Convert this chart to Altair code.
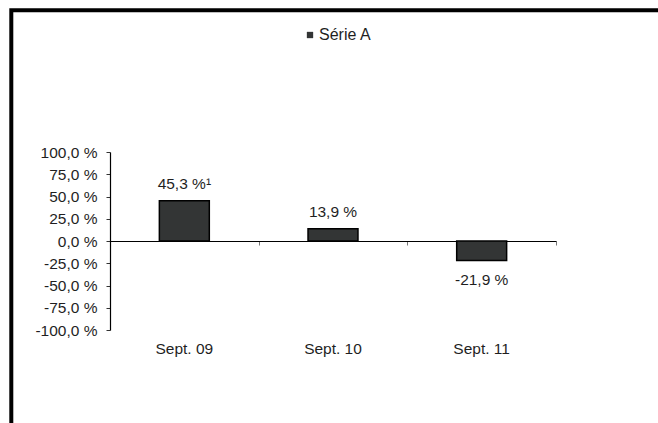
import altair as alt
import pandas as pd

categories = ["Sept. 09", "Sept. 10", "Sept. 11"]
values = [45.3, 13.9, -21.9]
value_labels = ["45,3 %¹", "13,9 %", "-21,9 %"]
series = ["Série A", "Série A", "Série A"]
y_ticks = [-100, -75, -50, -25, 0, 25, 50, 75, 100]

df = pd.DataFrame({"cat": categories, "val": values, "lab": value_labels, "serie": series})

FONT = "Liberation Sans"
TXT = "#1f1f1f"
FS = 15.5

x_scale = alt.Scale(domain=categories, paddingInner=0, paddingOuter=0)
y_scale = alt.Scale(domain=[-100, 100], nice=False, zero=True)

y_label_expr = "(datum.value < 0 ? '-' : '') + replace(format(abs(datum.value), '.1f'), '.', ',') + ' %'"

y_axis = alt.Axis(values=y_ticks, tickCount=9, labelExpr=y_label_expr, grid=False,
                  labelOverlap=False, labelFlush=False,
                  domainColor="black", domainWidth=1.2, tickColor="#333333",
                  tickSize=4, labelPadding=9, labelFontSize=FS, labelFont=FONT,
                  labelColor=TXT)

base = alt.Chart(df)

bars = base.mark_bar(width=alt.RelativeBandSize(0.336), stroke="black", strokeWidth=1.5).encode(
    x=alt.X("cat:N", scale=x_scale, sort=categories, title=None,
            axis=alt.Axis(orient="bottom", domain=False, ticks=False, labelPadding=11,
                          labelFontSize=FS, labelFont=FONT, labelColor=TXT, labelAngle=0)),
    y=alt.Y("val:Q", scale=y_scale, title=None, axis=y_axis),
    color=alt.Color("serie:N", scale=alt.Scale(range=["#333535"]),
                    legend=alt.Legend(orient="none", legendX=192, legendY=-125, title=None,
                                      symbolType="square", symbolSize=40, labelFontSize=16,
                                      labelFont=FONT, labelColor=TXT, labelOffset=1,
                                      padding=0, symbolStrokeWidth=0)),
)

pos_text = base.transform_filter("datum.val >= 0").mark_text(
    dy=-11.5, baseline="alphabetic", font=FONT, fontSize=FS, color=TXT
).encode(
    x=alt.X("cat:N", scale=x_scale, sort=categories, title=None,
            axis=alt.Axis(orient="bottom", offset=-89, labels=False, domainColor="black",
                          domainWidth=1.2, tickBand="extent", tickSize=4, tickColor="#777777",
                          grid=False)),
    y=alt.Y("val:Q", scale=y_scale, title=None, axis=y_axis),
    text="lab:N",
)

neg_text = base.transform_filter("datum.val < 0").mark_text(
    dy=24.5, baseline="alphabetic", font=FONT, fontSize=FS, color=TXT
).encode(
    x=alt.X("cat:N", scale=x_scale, sort=categories, title=None, axis=None),
    y=alt.Y("val:Q", scale=y_scale, title=None, axis=y_axis),
    text="lab:N",
)

frame = alt.Chart(pd.DataFrame({"a": [0]})).mark_rect(
    fillOpacity=0, stroke="black", strokeWidth=4
).encode(
    x=alt.value(-98.7), x2=alt.value(700), y=alt.value(-141.7), y2=alt.value(500)
)

chart = alt.layer(frame, bars, pos_text, neg_text).resolve_axis(x="independent").properties(
    width=446, height=178,
    autosize=alt.AutoSizeParams(type="none"),
    padding={"left": 110, "top": 152, "right": 102, "bottom": 93},
    background="white",
).configure_view(stroke=None)

chart.save("out.html", embed_options={"renderer": "svg", "actions": False})
